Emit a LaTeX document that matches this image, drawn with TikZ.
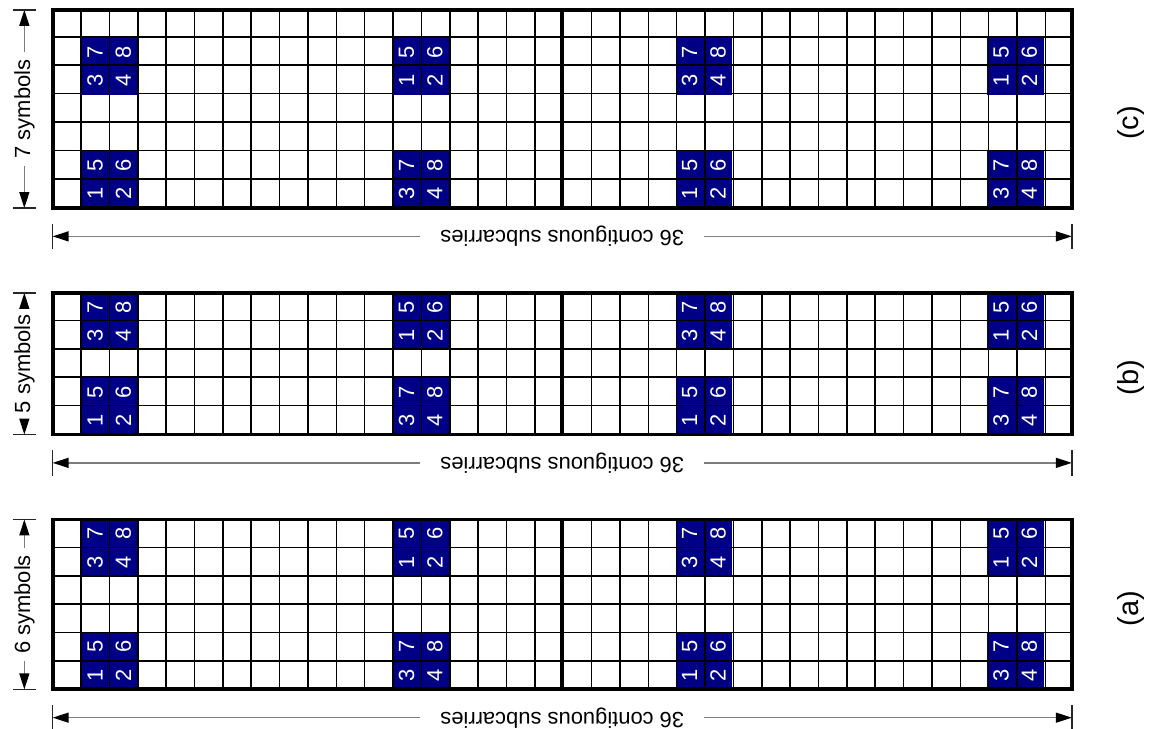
\documentclass[tikz,border=0pt]{standalone}
\usepackage{fontspec}
\setmainfont{Liberation Sans}
\usepackage{tikz}
\usetikzlibrary{arrows.meta,positioning}
\usepackage{xcolor}
\definecolor{pilotblue}{RGB}{0,0,135}
\definecolor{dimgray}{RGB}{125,125,125}

% pilot cells of one panel: #1 panel tag, #2 row of lower pair, #3 row of upper pair
\newcommand{\pilotcells}[3]{%
  \foreach \gx/\lo/\hi in {1/1/3,12/3/1,22/1/3,33/3/1}{
    \foreach \dx in {0,1}{
      \foreach \dy/\add in {0/0,1/4}{
        \pgfmathtruncatemacro{\nlo}{\lo+\dx+\add}
        \pgfmathtruncatemacro{\nhi}{\hi+\dx+\add}
        \node[pilot] (#1-\gx-\nlo) at (\gx+\dx+0.5,#2+\dy+0.5) {\nlo};
        \node[pilot] (#1-\gx-\nhi) at (\gx+\dx+0.5,#3+\dy+0.5) {\nhi};
      }
    }
  }%
}

\begin{document}
\begin{tikzpicture}[x=28.4pt,y=28.4pt,
    pilot/.style={fill=pilotblue,text=white,minimum size=28.4pt,inner sep=0pt,rotate=90,font=\fontsize{22}{26}\selectfont},
    cellgrid/.style={line width=1.6pt},
    gridframe/.style={line width=3.8pt},
    dimline/.style={draw=dimgray,line width=1.3pt,-{Triangle[length=16pt,width=10pt,color=black]}},
    dimtick/.style={line width=1.3pt,black!85},
    widthlabel/.style={rotate=180,inner xsep=20pt,inner ysep=2pt,font=\fontsize{22}{26}\selectfont},
    heightlabel/.style={rotate=90,inner xsep=7pt,inner ysep=2pt,font=\fontsize{22}{26}\selectfont},
    panelcap/.style={rotate=90,font=\fontsize{29}{34}\selectfont}
]
\useasboundingbox (-1.86,-0.40) rectangle (38.83,25.349);

% (c) 7 symbols
\pilotcells{c}{18}{22}
\draw[cellgrid] (0,18) grid (36,25);
\draw[gridframe] (0,18) rectangle (36,25);
\draw[gridframe] (18,18) -- (18,25);
\node[heightlabel] (ch) at (-1,21.5) {7 symbols};
\coordinate (cht) at (-1,25);
\coordinate (chb) at (-1,18);
\draw[dimline] (ch) -- (cht);
\draw[dimline] (ch) -- (chb);
\draw[dimtick] (-1.4,25) -- (-0.6,25) (-1.4,18) -- (-0.6,18);
\node[widthlabel] (cw) at (18,17) {36 contiguous subcarries};
\coordinate (cwl) at (0,17);
\coordinate (cwr) at (36,17);
\draw[dimline] (cw) -- (cwl);
\draw[dimline] (cw) -- (cwr);
\draw[dimtick] (0,16.55) -- (0,17.45) (36,16.55) -- (36,17.45);
\node[panelcap] (capc) at (38.08,21.0) {(c)};

% (b) 5 symbols
\pilotcells{b}{10}{13}
\draw[cellgrid] (0,10) grid (36,15);
\draw[gridframe] (0,10) rectangle (36,15);
\draw[gridframe] (18,10) -- (18,15);
\node[heightlabel] (bh) at (-1,12.5) {5 symbols};
\coordinate (bht) at (-1,15);
\coordinate (bhb) at (-1,10);
\draw[dimline] (bh) -- (bht);
\draw[dimline] (bh) -- (bhb);
\draw[dimtick] (-1.4,15) -- (-0.6,15) (-1.4,10) -- (-0.6,10);
\node[widthlabel] (bw) at (18,9) {36 contiguous subcarries};
\coordinate (bwl) at (0,9);
\coordinate (bwr) at (36,9);
\draw[dimline] (bw) -- (bwl);
\draw[dimline] (bw) -- (bwr);
\draw[dimtick] (0,8.55) -- (0,9.45) (36,8.55) -- (36,9.45);
\node[panelcap] (capb) at (38.08,12.0) {(b)};

% (a) 6 symbols
\pilotcells{a}{1}{5}
\draw[cellgrid] (0,1) grid (36,7);
\draw[gridframe] (0,1) rectangle (36,7);
\draw[gridframe] (18,1) -- (18,7);
\node[heightlabel] (ah) at (-1,4) {6 symbols};
\coordinate (aht) at (-1,7);
\coordinate (ahb) at (-1,1);
\draw[dimline] (ah) -- (aht);
\draw[dimline] (ah) -- (ahb);
\draw[dimtick] (-1.4,7) -- (-0.6,7) (-1.4,1) -- (-0.6,1);
\node[widthlabel] (aw) at (18,0) {36 contiguous subcarries};
\coordinate (awl) at (0,0);
\coordinate (awr) at (36,0);
\draw[dimline] (aw) -- (awl);
\draw[dimline] (aw) -- (awr);
\draw[dimtick] (0,-0.45) -- (0,0.45) (36,-0.45) -- (36,0.45);
\node[panelcap] (capa) at (38.08,3.85) {(a)};
\end{tikzpicture}
\end{document}
